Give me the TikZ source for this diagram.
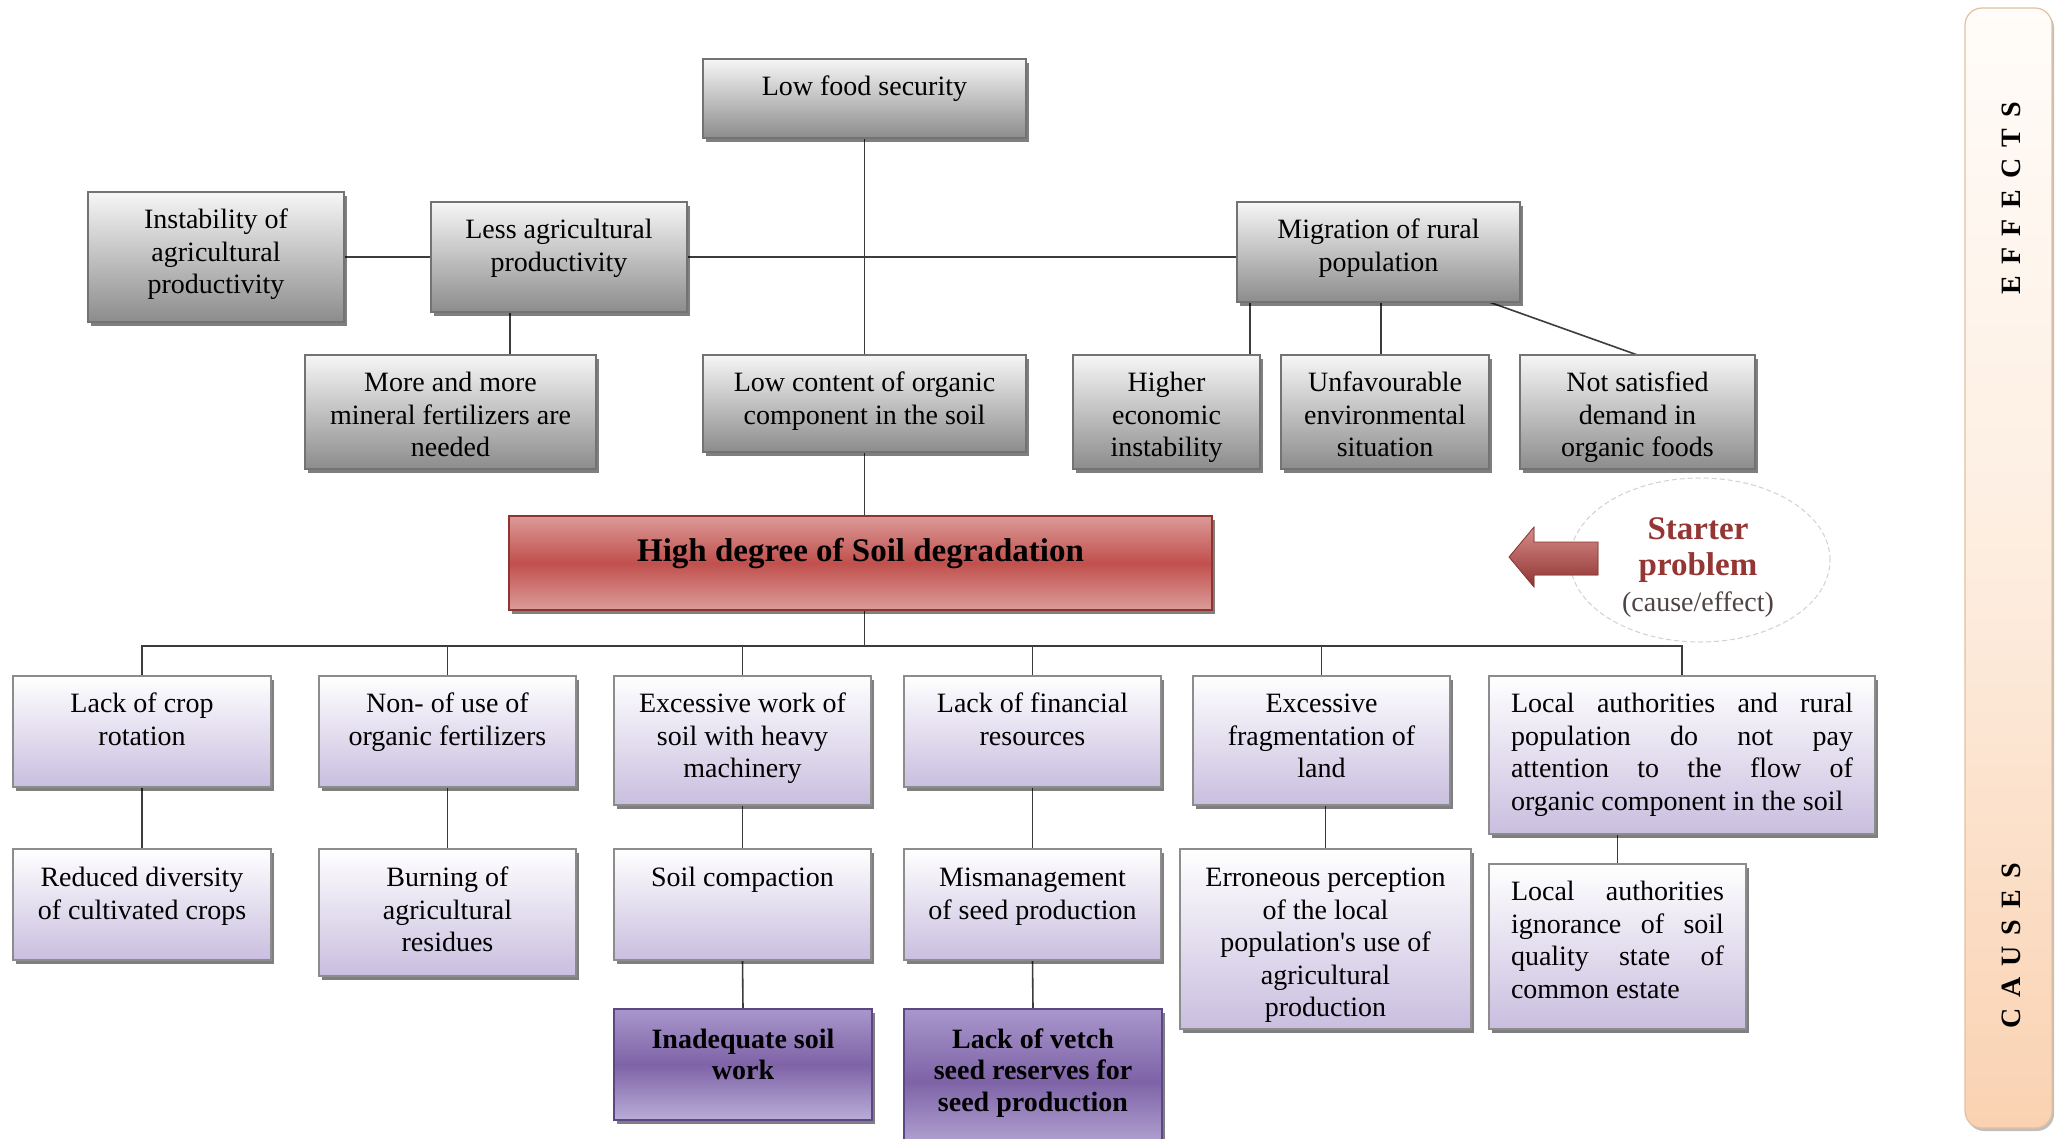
\documentclass[tikz,border=0pt]{standalone}
\usepackage{fontspec}
\setmainfont{Liberation Serif}
\usetikzlibrary{shadows,shapes.geometric}

\definecolor{grayTop}{HTML}{F6F6F6}
\definecolor{grayBot}{HTML}{8C8C8C}
\definecolor{lavBot}{HTML}{C9BEDF}
\definecolor{purTop}{HTML}{A997CB}
\definecolor{purMid}{HTML}{7E63A7}
\definecolor{purBot}{HTML}{BAADD8}
\definecolor{purEdge}{HTML}{5B4783}
\definecolor{redTop}{HTML}{DC9a98}
\definecolor{redMid}{HTML}{C0504D}
\definecolor{redBot}{HTML}{DC9C9A}
\definecolor{redEdge}{HTML}{8E3431}
\definecolor{starter}{HTML}{943634}
\definecolor{noteGray}{HTML}{4F4343}
\definecolor{panelTop}{HTML}{FFFCF9}
\definecolor{panelMid}{HTML}{FDEDDF}
\definecolor{panelBot}{HTML}{FAD2B2}
\definecolor{panelEdge}{HTML}{E2C19F}
\definecolor{wire}{HTML}{3C3C3C}

\pgfdeclarelayer{paper}
\pgfdeclarelayer{links}
\pgfsetlayers{paper,links,main}

% box text: width, height, centred lines starting at a fixed distance from the top
\newcommand\boxtext[4][14pt]{\parbox[c][#3][t]{#2}{\vspace*{#1}\centering\strut#4\par}}
% box text with justified lines
\newcommand\jboxtext[4][14pt]{\parbox[c][#3][t]{#2}{\vspace*{#1}\noindent\strut#4\par}}
\newcommand\jline[1]{\makebox[\linewidth][s]{#1}}
\newcommand\lgap{\hspace{11pt}}

\begin{document}
\begin{tikzpicture}[x=1pt,y=-1pt,
  every node/.style={inner sep=0pt,outer sep=0pt},
  base/.style={anchor=north west,inner xsep=10pt,inner ysep=0pt,line width=1.2pt,
    font=\fontsize{28}{32.5}\selectfont,
    drop shadow={shadow xshift=3pt,shadow yshift=-4pt,opacity=0.5,fill=black}},
  effect/.style={base,draw=black!55,top color=grayTop,bottom color=grayBot},
  cause/.style={base,draw=black!45,top color=white,bottom color=lavBot},
  widecause/.style={cause,inner xsep=22pt},
  rootcause/.style={base,draw=purEdge,top color=purTop,bottom color=purBot,middle color=purMid,
    font=\fontsize{28}{31.5}\selectfont\bfseries},
  core/.style={base,draw=redEdge,top color=redTop,bottom color=redBot,middle color=redMid,
    font=\fontsize{33}{38}\selectfont\bfseries},
  panel/.style={anchor=north west,rounded corners=17pt,draw=panelEdge,line width=1.2pt,
    top color=panelTop,bottom color=panelBot,middle color=panelMid,
    drop shadow={shadow xshift=2pt,shadow yshift=-3pt,opacity=0.25,fill=black}},
  sidelabel/.style={rotate=90,font=\fontsize{28}{32}\selectfont\bfseries},
  wire/.style={draw=wire,line width=1.6pt},
]
\begin{pgfonlayer}{paper}
  \fill[white] (0,0) rectangle (2055,1138);
\end{pgfonlayer}
\useasboundingbox (0,0) rectangle (2055,1138);

% side panel with the two section labels
\node[panel,minimum width=87pt,minimum height=1120pt] (side) at (1965,8) {};
\node[sidelabel] (efflbl) at (2011,198) {E\lgap F\lgap F\lgap E\lgap C\lgap T\lgap S};
\node[sidelabel] (caulbl) at (2011,946) {C\lgap A\lgap U\lgap S\lgap E\lgap S};

% effects
\node[effect] (lfs)  at (703,59)   {\boxtext{303pt}{79pt}{Low food security}};
\node[effect] (inst) at (88,192)   {\boxtext{236pt}{130pt}{Instability of\\agricultural\\productivity}};
\node[effect] (less) at (431,202)  {\boxtext{236pt}{110pt}{Less agricultural\\productivity}};
\node[effect] (mig)  at (1237,202) {\boxtext{263pt}{100pt}{Migration of rural\\population}};
\node[effect] (more) at (305,355)  {\boxtext{271pt}{114pt}{More and more\\mineral fertilizers are\\needed}};
\node[effect] (lc)   at (703,355)  {\boxtext{303pt}{97pt}{Low content of organic\\component in the soil}};
\node[effect] (hei)  at (1073,355) {\boxtext{167pt}{114pt}{Higher\\economic\\instability}};
\node[effect] (unf)  at (1281,355) {\boxtext{188pt}{114pt}{Unfavourable\\environmental\\situation}};
\node[effect] (nsd)  at (1520,355) {\boxtext{215pt}{114pt}{Not satisfied\\demand in\\organic foods}};

% core problem
\node[core] (hd) at (509,516) {\boxtext[19pt]{683pt}{94pt}{High degree of Soil degradation}};

% starter problem marker
\node[ellipse,draw=black!18,dash pattern=on 5pt off 3pt,line width=1pt,
      minimum width=260pt,minimum height=164pt] (ring) at (1700,560) {};
\node[align=center,font=\fontsize{33}{36}\selectfont] (startxt) at (1698,568)
  {{\color{starter}\bfseries Starter}\\{\color{starter}\bfseries problem}\\
   {\fontsize{28}{36}\selectfont\color{noteGray}(cause/effect)}};
\filldraw[draw=redEdge,line width=0.8pt,top color=redTop!80!redMid,bottom color=redEdge]
  (1509,557) -- (1534,527) -- (1534,542) -- (1598,542) -- (1598,575)
  -- (1534,575) -- (1534,587) -- cycle;

% causes, first level
\node[cause] (c1) at (13,676)   {\boxtext{238pt}{111pt}{Lack of crop\\rotation}};
\node[cause] (c2) at (319,676)  {\boxtext{237pt}{111pt}{Non- of use of\\organic fertilizers}};
\node[cause] (c3) at (614,676)  {\boxtext{237pt}{129pt}{Excessive work of\\soil with heavy\\machinery}};
\node[cause] (c4) at (904,676)  {\boxtext{237pt}{111pt}{Lack of financial\\resources}};
\node[cause] (c5) at (1193,676) {\boxtext{237pt}{129pt}{Excessive\\fragmentation of\\land}};
\node[widecause] (c6) at (1489,676) {\jboxtext{342pt}{158pt}{\jline{Local authorities and rural}\\
  \jline{population do not pay}\\\jline{attention to the flow of}\\organic component in the soil}};

% causes, second level
\node[cause] (d1) at (13,849)   {\boxtext[15pt]{238pt}{111pt}{Reduced diversity\\of cultivated crops}};
\node[cause] (d2) at (319,849)  {\boxtext[15pt]{237pt}{127pt}{Burning of\\agricultural\\residues}};
\node[cause] (d3) at (614,849)  {\boxtext[15pt]{237pt}{111pt}{Soil compaction}};
\node[cause] (d4) at (904,849)  {\boxtext[15pt]{237pt}{111pt}{Mismanagement\\of seed production}};
\node[cause] (d5) at (1180,849) {\boxtext[15pt]{271pt}{180pt}{Erroneous perception\\of the local\\population\textquotesingle s use of\\agricultural\\production}};
\node[widecause] (d6) at (1489,864) {\jboxtext{213pt}{165pt}{\jline{Local authorities}\\
  \jline{ignorance of soil}\\\jline{quality state of}\\common estate}};

% root causes
\node[rootcause] (e3) at (614,1009) {\boxtext[17pt]{238pt}{111pt}{Inadequate soil\\work}};
\node[rootcause] (e4) at (904,1009) {\boxtext[17pt]{238pt}{145pt}{Lack of vetch\\seed reserves for\\seed production}};

% connectors
\begin{pgfonlayer}{links}
  \coordinate (lmx) at (510,0);
  \coordinate (m1x) at (1250,0);
  \coordinate (m2x) at (1381,0);
  \coordinate (m3x) at (1489,0);
  \coordinate (bus) at (0,646);
  \draw[wire] (lfs.south) -- (lc.north);
  \draw[wire] (inst.east) -- (less.west);
  \draw[wire] (less.east) -- (less.east -| mig.west);
  \draw[wire] (lmx |- less.south) -- (lmx |- more.north);
  \draw[wire] (m1x |- mig.south) -- (m1x |- hei.north);
  \draw[wire] (m2x |- mig.south) -- (m2x |- unf.north);
  \draw[wire] (m3x |- mig.south) -- (nsd.north);
  \draw[wire] (lc.south) -- (lc.south |- hd.north);
  \draw[wire] (lc.south |- hd.south) -- (lc.south |- bus);
  \draw[wire] (c1.north) -- (c1.north |- bus) -- (c6.north |- bus) -- (c6.north);
  \foreach \n in {c2,c3,c4,c5} \draw[wire] (\n.north) -- (\n.north |- bus);
  \draw[wire] (c1.south) -- (d1.north);
  \draw[wire] (c2.south) -- (d2.north);
  \draw[wire] (c3.south) -- (d3.north);
  \draw[wire] (c4.south) -- (d4.north);
  \draw[wire] (c5.south -| d5.north) -- (d5.north);
  \draw[wire] (d6.north) -- (d6.north |- c6.south);
  \draw[wire] (d3.south) -- (e3.north);
  \draw[wire] (d4.south) -- (e4.north);
\end{pgfonlayer}
\end{tikzpicture}
\end{document}
